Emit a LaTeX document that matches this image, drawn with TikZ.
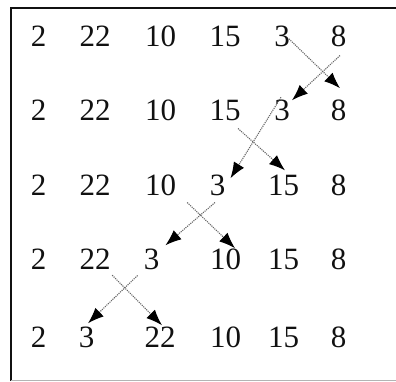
\documentclass[tikz,border=0pt]{standalone}
\usepackage{fontspec}
\setmainfont{Liberation Serif}
\usetikzlibrary{arrows.meta}
\definecolor{Ink}{HTML}{111111}
\definecolor{Wire}{HTML}{666666}
\definecolor{Edge}{HTML}{B4B4B4}

\begin{document}
\begin{tikzpicture}[x=1pt,y=-1pt,
  num/.style={anchor=base,inner sep=0pt,text=Ink,font=\fontsize{31}{31}\selectfont},
  swapline/.style={Wire,line width=1.1pt,densely dotted,-{Latex[length=16pt,width=12pt,color=black]}}]
\useasboundingbox (0,0) rectangle (396,381);
\fill[white] (0,0) rectangle (396,381);
\draw[Ink,line width=2pt] (11,381)--(11,8)--(396,8);
\draw[Edge,line width=1pt] (11,380)--(396,380);
% the five passes
\node[num] (r1c1) at (38.5,46) {2};\node[num] (r1c2) at (95,46) {22};\node[num] (r1c3) at (160.5,46) {10};
\node[num] (r1c4) at (225,46) {15};\node[num] (r1c5) at (282,46) {3};\node[num] (r1c6) at (338.5,46) {8};
\node[num] (r2c1) at (38.5,120) {2};\node[num] (r2c2) at (95,120) {22};\node[num] (r2c3) at (160.5,120) {10};
\node[num] (r2c4) at (225,120) {15};\node[num] (r2c5) at (282,120) {3};\node[num] (r2c6) at (338.5,120) {8};
\node[num] (r3c1) at (38.5,195) {2};\node[num] (r3c2) at (95,195) {22};\node[num] (r3c3) at (160.5,195) {10};
\node[num] (r3c4) at (217.5,195) {3};\node[num] (r3c5) at (283.5,195) {15};\node[num] (r3c6) at (338.5,195) {8};
\node[num] (r4c1) at (38.5,269) {2};\node[num] (r4c2) at (95,269) {22};\node[num] (r4c3) at (151.5,269) {3};
\node[num] (r4c4) at (225.5,269) {10};\node[num] (r4c5) at (283.5,269) {15};\node[num] (r4c6) at (338.5,269) {8};
\node[num] (r5c1) at (38.5,347) {2};\node[num] (r5c2) at (86.5,347) {3};\node[num] (r5c3) at (160,347) {22};
\node[num] (r5c4) at (225.5,347) {10};\node[num] (r5c5) at (283.5,347) {15};\node[num] (r5c6) at (338.5,347) {8};
% crossing arrows
\draw[swapline] ([shift={(-1,3)}]r1c5.east) -- ([shift={(1.5,-11)}]r2c6.north);
\draw[swapline] ([shift={(1.5,9)}]r1c6.south) -- ([shift={(2,1)}]r2c5.north east);
\draw[swapline] ([shift={(-1,-2)}]r2c5.north) -- ([shift={(5,4)}]r3c4.north east);
\draw[swapline] ([shift={(13,8)}]r2c4.south) -- ([shift={(1.5,-4)}]r3c5.north);
\draw[swapline] ([shift={(11,7)}]r3c3.south east) -- ([shift={(9.5,0)}]r4c4.north);
\draw[swapline] ([shift={(-2.5,7)}]r3c4.south) -- ([shift={(6,-3)}]r4c3.north east);
\draw[swapline] ([shift={(1.5,6)}]r4c2.south east) -- ([shift={(2,-1)}]r5c3.north);
\draw[swapline] ([shift={(-6,6)}]r4c3.south west) -- ([shift={(1.5,-3)}]r5c2.north);
\end{tikzpicture}
\end{document}
